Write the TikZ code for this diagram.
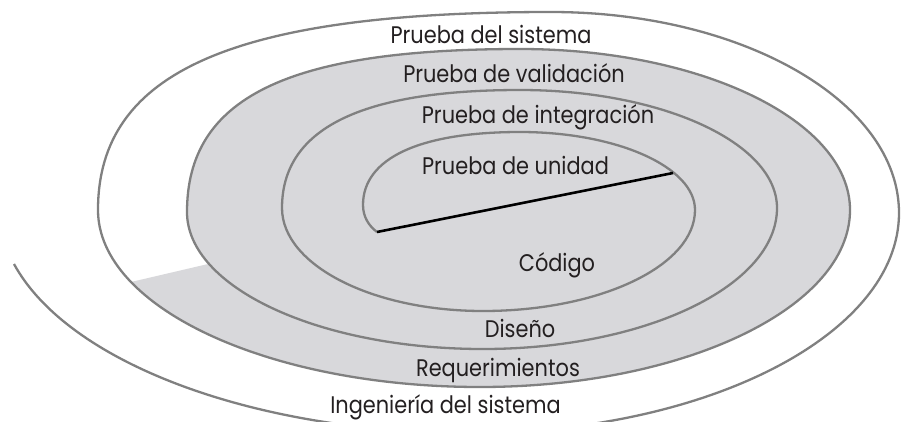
\documentclass[tikz,border=0pt]{standalone}
\usepackage{fontspec}
\setmainfont[FakeStretch=0.87]{Poppins}
\definecolor{spiralgray}{RGB}{128,128,128}
\definecolor{fillgray}{RGB}{216,216,219}
\definecolor{txt}{RGB}{35,31,32}
\begin{document}
\begin{tikzpicture}[x=1pt,y=-1pt,
  spiral/.style={draw=spiralgray, line width=2.3pt},
  lbl/.style={anchor=base, inner sep=0pt, text=txt, font=\fontsize{24}{28}\selectfont}]
\clip (0,0) rectangle (902,421);
\fill[white] (0,0) rectangle (902,421);
% shaded part of the spiral band
\fill[fillgray] (131,282) .. controls (192.4,345.9) and (329.1,387) .. (480,387)
  .. controls (684.2,387) and (850,307.7) .. (850,210)
  .. controls (850,121.1) and (702.2,49) .. (520,49)
  .. controls (286.9,49) and (187,97.9) .. (187,212)
  .. controls (187,229.7) and (194.5,247.4) .. (208.9,263.8) -- cycle;
% spiral line
\draw[spiral] (14,264) .. controls (68.2,363.5) and (255.7,433) .. (470,433)
  .. controls (706.8,433) and (899,334.4) .. (899,213)
  .. controls (899,102) and (743.1,12) .. (551,12)
  .. controls (233.9,12) and (98,71.4) .. (98,210)
  .. controls (98,307.7) and (269.1,387) .. (480,387)
  .. controls (684.2,387) and (850,307.7) .. (850,210)
  .. controls (850,121.1) and (702.2,49) .. (520,49)
  .. controls (286.9,49) and (187,97.9) .. (187,212)
  .. controls (187,287.6) and (319.6,349) .. (483,349)
  .. controls (645.3,349) and (777,285.8) .. (777,208)
  .. controls (777,142.9) and (661.9,90) .. (520,90)
  .. controls (360.5,90) and (282,128.9) .. (282,208)
  .. controls (282,264.9) and (372,311) .. (483,311)
  .. controls (600,311) and (695,265.8) .. (695,210)
  .. controls (695,166.9) and (616.6,132) .. (520,132)
  .. controls (419.5,132) and (363,158.3) .. (363,205)
  .. controls (363,217) and (369,226) .. (377,232);
\coordinate (e) at (377,232);
\coordinate (f) at (673,173);
\draw[black, line width=2.6pt] (e) -- (f);
% labels
\node[lbl] (ps) at (491,43) {Prueba del sistema};
\node[lbl] (pv) at (514,82) {Prueba de validación};
\node[lbl] (pi) at (538,123) {Prueba de integración};
\node[lbl] (pu) at (515.5,174) {Prueba de unidad};
\node[lbl] (co) at (557,271) {Código};
\node[lbl] (di) at (520,337) {Diseño};
\node[lbl] (re) at (498,376) {Requerimientos};
\node[lbl] (in) at (445.5,413) {Ingeniería del sistema};
\end{tikzpicture}
\end{document}
